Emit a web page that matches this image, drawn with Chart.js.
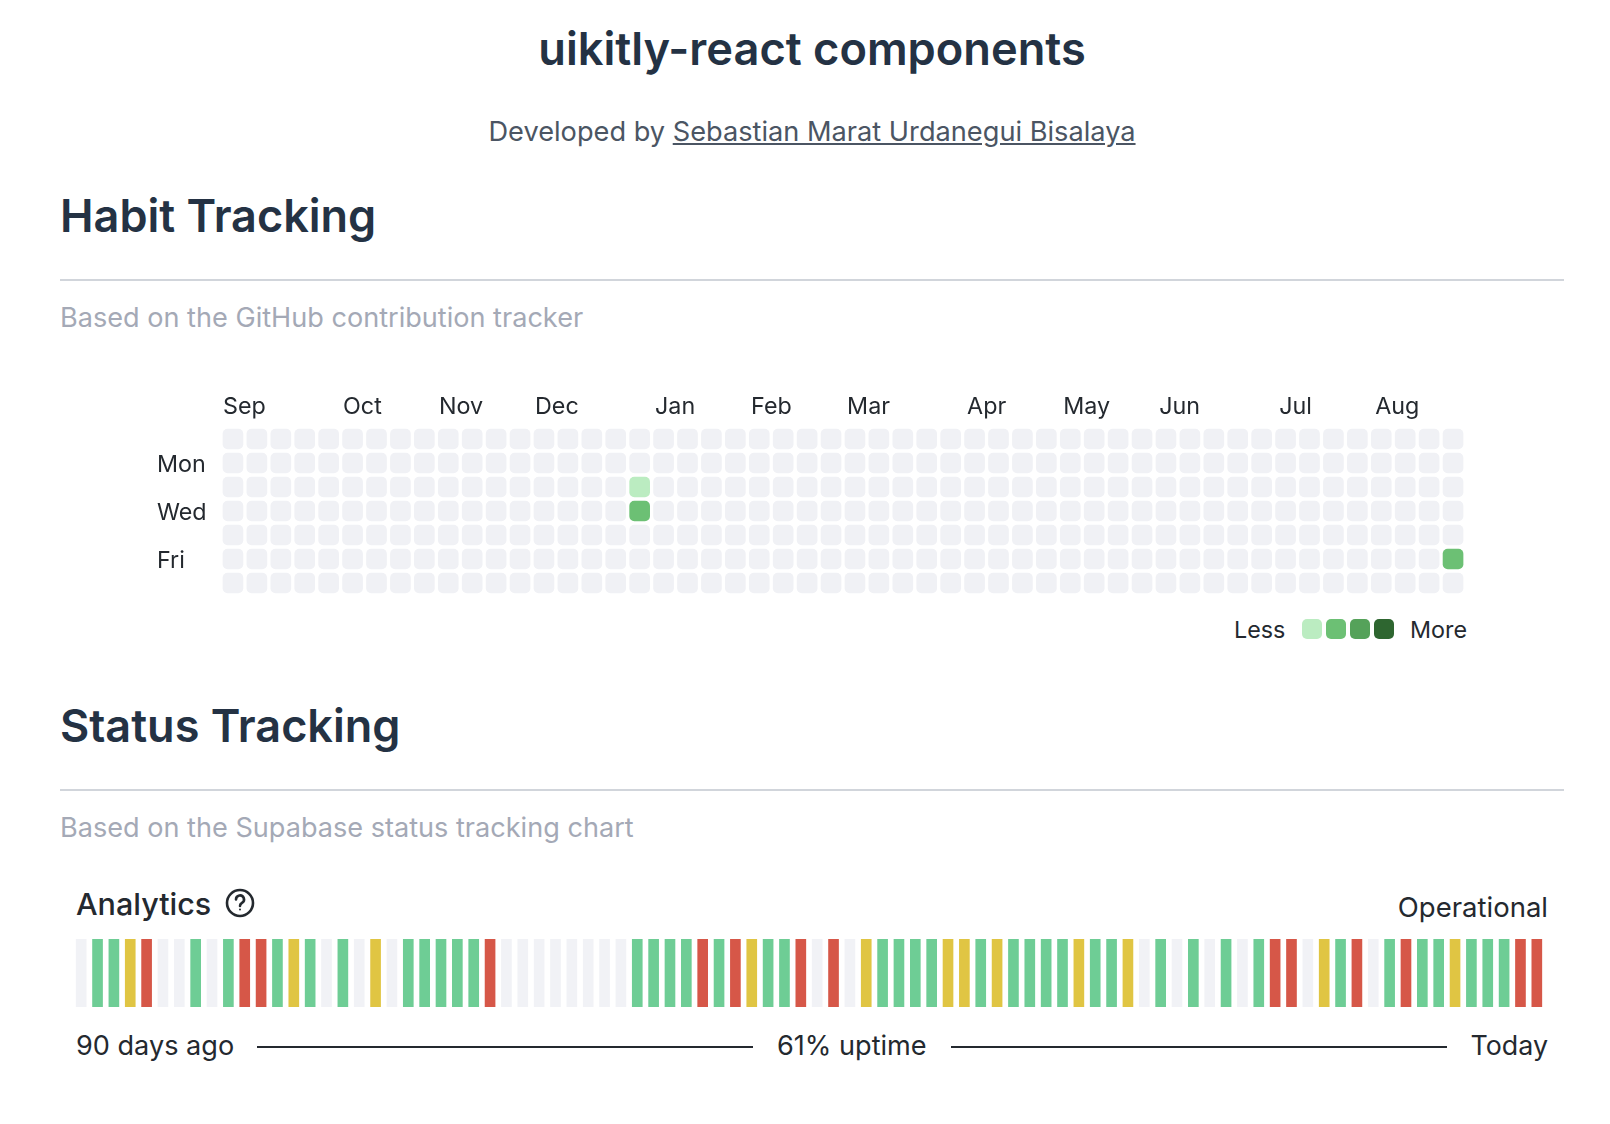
<!DOCTYPE html>
<html>
<head>
<meta charset="utf-8">
<title>uikitly-react components</title>
<script src="https://cdn.jsdelivr.net/npm/chart.js@4/dist/chart.umd.js"></script>
<style>
  html, body { margin: 0; background: #fff; }
  body { position: relative; width: 1610px; height: 1124px; overflow: hidden; font-family: Inter, sans-serif; color: #24292f; }
  .txt { position: absolute; white-space: nowrap; line-height: 1; }
  h1, h2 { margin: 0; font-weight: 600; color: #243244; }
  .title { left: 0; width: 1624px; text-align: center; top: 26px; font-size: 45.2px; }
  .byline { left: 0; width: 1624px; text-align: center; top: 118px; font-size: 27.2px; color: #4b5563; }
  .byline a { color: #4b5563; text-decoration: underline; }
  .h-section { left: 60px; font-size: 45px; }
  .rule { position: absolute; left: 60px; width: 1504px; height: 2px; background: #d1d5db; }
  .sub { left: 60px; font-size: 27.1px; color: #a4a9b6; }
  .small { font-size: 23.3px; }
  .mid { font-size: 27.1px; }
  .line { position: absolute; height: 2px; background: #24292f; top: 1046px; }
  canvas { position: absolute; }
  #habitWrap { position: absolute; left: 157px; top: 390px; width: 1308px; height: 205px; }
  #statusWrap { position: absolute; left: 73px; top: 939px; width: 1472px; height: 68px; }
  .swatch { position: absolute; top: 619px; width: 20px; height: 20px; border-radius: 5px; }
</style>
</head>
<body>
<h1 class="txt title">uikitly-react components</h1>
<div class="txt byline">Developed by <a href="#">Sebastian Marat Urdanegui Bisalaya</a></div>

<h2 class="txt h-section" style="top:193px">Habit Tracking</h2>
<div class="rule" style="top:279px"></div>
<div class="txt sub" style="top:304px">Based on the GitHub contribution tracker</div>

<div id="habitWrap"><canvas id="habitChart"></canvas></div>

<div class="txt small" style="left:1234px;top:618px">Less</div>
<div class="swatch" style="left:1302px;background:#bbecc1"></div>
<div class="swatch" style="left:1326px;background:#6cc074"></div>
<div class="swatch" style="left:1350px;background:#55a25a"></div>
<div class="swatch" style="left:1374px;background:#2e6630"></div>
<div class="txt small" style="left:1410px;top:618px">More</div>

<h2 class="txt h-section" style="top:703px">Status Tracking</h2>
<div class="rule" style="top:789px"></div>
<div class="txt sub" style="top:814px">Based on the Supabase status tracking chart</div>

<div class="txt" style="left:76px;top:889px;font-size:30.5px;font-weight:450">Analytics</div>
<svg style="position:absolute;left:224px;top:887px" width="32" height="32" viewBox="0 0 32 32" fill="none" stroke="#24292f" stroke-width="2.6">
  <circle cx="16" cy="16" r="13"/>
  <path d="M12 12.5a4 4 0 1 1 6 3.4c-1.3.8-2 1.5-2 3" stroke-linecap="round"/>
  <circle cx="16" cy="22.5" r="1" fill="#24292f" stroke="none"/>
</svg>
<div class="txt" style="right:62px;top:894px;font-size:27.5px">Operational</div>

<div id="statusWrap"><canvas id="statusChart"></canvas></div>

<div class="txt mid" style="left:76px;top:1032px">90 days ago</div>
<div class="line" style="left:257px;width:496px"></div>
<div class="txt mid" style="left:777px;top:1032px">61% uptime</div>
<div class="line" style="left:951px;width:496px"></div>
<div class="txt mid" style="right:62px;top:1032px;font-size:26.8px">Today</div>

<script>
// habit grid
const weekIndexes = Array.from({ length: 52 }, (_, i) => i);
const monthLabels = ["Sep", "Oct", "Nov", "Dec", "Jan", "Feb", "Mar", "Apr", "May", "Jun", "Jul", "Aug"];
const monthWeeks = [0, 5, 9, 13, 18, 22, 26, 31, 35, 39, 44, 48];
const dayLabels = ["", "Mon", "", "Wed", "", "Fri", ""];

const sunLevels = [0,0,0,0,0,0,0,0,0,0,0,0,0,0,0,0,0,0,0,0,0,0,0,0,0,0,0,0,0,0,0,0,0,0,0,0,0,0,0,0,0,0,0,0,0,0,0,0,0,0,0,0];
const monLevels = [0,0,0,0,0,0,0,0,0,0,0,0,0,0,0,0,0,0,0,0,0,0,0,0,0,0,0,0,0,0,0,0,0,0,0,0,0,0,0,0,0,0,0,0,0,0,0,0,0,0,0,0];
const tueLevels = [0,0,0,0,0,0,0,0,0,0,0,0,0,0,0,0,0,1,0,0,0,0,0,0,0,0,0,0,0,0,0,0,0,0,0,0,0,0,0,0,0,0,0,0,0,0,0,0,0,0,0,0];
const wedLevels = [0,0,0,0,0,0,0,0,0,0,0,0,0,0,0,0,0,2,0,0,0,0,0,0,0,0,0,0,0,0,0,0,0,0,0,0,0,0,0,0,0,0,0,0,0,0,0,0,0,0,0,0];
const thuLevels = [0,0,0,0,0,0,0,0,0,0,0,0,0,0,0,0,0,0,0,0,0,0,0,0,0,0,0,0,0,0,0,0,0,0,0,0,0,0,0,0,0,0,0,0,0,0,0,0,0,0,0,0];
const friLevels = [0,0,0,0,0,0,0,0,0,0,0,0,0,0,0,0,0,0,0,0,0,0,0,0,0,0,0,0,0,0,0,0,0,0,0,0,0,0,0,0,0,0,0,0,0,0,0,0,0,0,0,2];
const satLevels = [0,0,0,0,0,0,0,0,0,0,0,0,0,0,0,0,0,0,0,0,0,0,0,0,0,0,0,0,0,0,0,0,0,0,0,0,0,0,0,0,0,0,0,0,0,0,0,0,0,0,0,0];
const dayRows = [sunLevels, monLevels, tueLevels, wedLevels, thuLevels, friLevels, satLevels];

const levelColors = ["#f0f1f5", "#bbecc1", "#6cc074", "#55a25a", "#2e6630"];

// status bars, oldest day first: e = no data, g = up, y = degraded, r = down
const statusDays = [
  "e","g","g","y","r","e","e","g","e","g","r","r","g","y","g","e","g","e","y","e",
  "g","g","g","g","g","r","e","e","e","e","e","e","e","e","g","g","g","g","r","g",
  "r","y","g","g","r","e","r","e","y","g","g","g","g","y","y","g","y","g","g","g",
  "g","y","g","g","y","e","g","e","g","e","g","e","g","r","r","e","y","g","r","e",
  "g","r","g","g","y","g","g","g","r","r"
];
const statusColors = { e: "#f1f2f6", g: "#6ecd95", y: "#e0c543", r: "#d65748" };

const cellHalf = 0.4167;

// drops the half-label padding Chart.js reserves around the first and last tick
const noLabelPadding = (scale) => {
  scale.paddingTop = 0;
  scale.paddingBottom = 0;
  scale.paddingLeft = 0;
  scale.paddingRight = 0;
};

new Chart(document.getElementById("habitChart"), {
  type: "bar",
  data: {
    labels: weekIndexes,
    datasets: dayRows.map((levels, row) => ({
      label: "row " + row,
      data: levels.map(() => [row - cellHalf, row + cellHalf]),
      backgroundColor: levels.map(l => levelColors[l]),
      borderSkipped: false,
      borderRadius: 5,
      barThickness: 20,
      grouped: false,
    })),
  },
  options: {
    responsive: true,
    maintainAspectRatio: false,
    animation: false,
    layout: { padding: 0 },
    plugins: { legend: { display: false }, tooltip: { enabled: false } },
    scales: {
      x: { display: false },
      // month labels sit on a 24px step, a touch wider than the cells
      months: {
        type: "linear",
        axis: "x",
        position: "top",
        offset: false,
        min: -0.083,
        max: 51.742,
        border: { display: false },
        grid: { display: false, drawTicks: false },
        afterBuildTicks: (scale) => { scale.ticks = monthWeeks.map(w => ({ value: w })); },
        afterFit: (scale) => { noLabelPadding(scale); scale.height = 37; },
        ticks: {
          autoSkip: false,
          maxRotation: 0,
          minRotation: 0,
          align: "start",
          padding: 6,
          color: "#24292f",
          font: { family: "Inter", size: 23.3 },
          callback: (v) => monthLabels[monthWeeks.indexOf(v)],
        },
      },
      y: {
        reverse: true,
        min: -0.5,
        max: 6.5,
        border: { display: false },
        grid: { display: false, drawTicks: false },
        afterBuildTicks: (scale) => { scale.ticks = dayLabels.map((_, i) => ({ value: i })); },
        afterFit: (scale) => { noLabelPadding(scale); scale.width = 64; },
        ticks: {
          crossAlign: "far",
          autoSkip: false,
          labelOffset: 2,
          color: "#24292f",
          font: { family: "Inter", size: 23.3 },
          callback: (v) => dayLabels[v],
        },
      },
    },
  },
});

new Chart(document.getElementById("statusChart"), {
  type: "bar",
  data: {
    labels: statusDays.map((s, i) => i),
    datasets: [{
      label: "Analytics",
      data: statusDays.map(() => 1),
      backgroundColor: statusDays.map(s => statusColors[s]),
      barThickness: 10,
      borderWidth: 0,
    }],
  },
  options: {
    responsive: true,
    maintainAspectRatio: false,
    animation: false,
    layout: { padding: 0 },
    plugins: { legend: { display: false }, tooltip: { enabled: false } },
    scales: {
      x: { display: false },
      y: { display: false, min: 0, max: 1 },
    },
  },
});
</script>
</body>
</html>
